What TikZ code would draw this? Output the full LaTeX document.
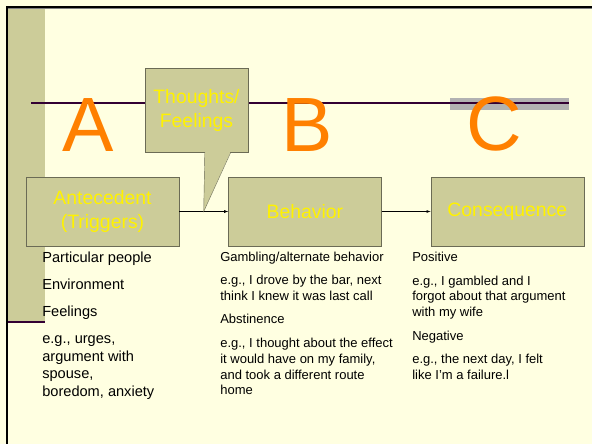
\documentclass[tikz,border=0pt]{standalone}
\usepackage{fontspec}
\setmainfont{Liberation Sans}
\usetikzlibrary{arrows, positioning, calc}

\definecolor{slidebg}{HTML}{FFFFE1}
\definecolor{olivebox}{HTML}{CCCC99}
\definecolor{boxline}{HTML}{6B6B55}
\definecolor{abcorange}{HTML}{FF8000}
\definecolor{rulepurple}{HTML}{330033}
\definecolor{bandgrey}{HTML}{B2B2B2}

\begin{document}
\begin{tikzpicture}[x=1pt, y=-1pt, node distance=49pt, >=latex, semithick]
	\tikzstyle{phase} = [draw=boxline, thin, fill=olivebox, rectangle, minimum width=153pt, minimum height=69pt, inner sep=0pt, align=center, text=yellow, font={\fontsize{19.4}{24}\selectfont}]
	\tikzstyle{bigLetter} = [text=abcorange, inner sep=0pt, anchor=base, font={\fontsize{77}{77}\selectfont}]
	\tikzstyle{notes} = [anchor=north west, align=left, inner sep=0pt, text=black, font={\fontsize{13}{15.7}\selectfont}]
	\tikzstyle{bigNotes} = [notes, font={\fontsize{14.6}{17.5}\selectfont}]

	% slide background and frame
	\useasboundingbox (0,0) rectangle (592,444);
	\fill[slidebg] (0,0) rectangle (592,444);
	\fill[olivebox] (8,8) rectangle (45,322);
	\draw[rulepurple, line width=2pt] (8,322) -- (45,322);
	\draw[gray, line width=1pt] (8,9) -- (592,9);
	\draw[black, line width=2pt] (7,444) -- (7,7) -- (592,7);

	% title rule
	\fill[bandgrey] (450,98) rectangle (569,110);
	\draw[rulepurple, line width=2.5pt] (31,103) -- (569,103);

	\node[bigLetter](la) at (88,151) {A};
	\node[bigLetter](lb) at (307,151) {B};
	\node[bigLetter](lc) at (494,150) {C};

	% the three phases
	\node[phase](ant) at (102.5,211.5) {Antecedent\\(Triggers)};
	\node[phase](beh) [right=of ant] {Behavior};
	\node[phase](con) [right=of beh] {Consequence};

	\path[->, thin]
	(ant) edge (beh)
	(beh) edge (con);

	% thoughts callout
	\coordinate (tip) at ($(ant.east)!0.5!(beh.west)$);
	\node[phase, minimum width=103pt, minimum height=84pt](th) at (196.5,110) {Thoughts/\\Feelings};
	\fill[olivebox] ([xshift=60pt, yshift=1pt]th.south west) -- (tip) -- ([xshift=86pt, yshift=1pt]th.south west) -- cycle;
	\draw[boxline, thin] ([xshift=60pt]th.south west) -- (tip) -- ([xshift=86pt]th.south west);

	% notes under each phase
	\node[bigNotes](antnotes) at (42,252) {Particular people\\[9.5pt]Environment\\[9pt]Feelings\\[10pt]e.g., urges,\\argument with\\spouse,\\boredom, anxiety};
	\node[notes](behnotes) at (220,251.3) {Gambling/alternate behavior\\[7.7pt]e.g., I drove by the bar, next\\think I knew it was last call\\[7.8pt]Abstinence\\[8.5pt]e.g., I thought about the effect\\it would have on my family,\\and took a different route\\home};
	\node[notes](connotes) at (412,252.2) {Positive\\[7.6pt]e.g., I gambled and I\\forgot about that argument\\with my wife\\[8.3pt]Negative\\[7.6pt]e.g., the next day, I felt\\like I’m a failure.l};
\end{tikzpicture}
\end{document}
